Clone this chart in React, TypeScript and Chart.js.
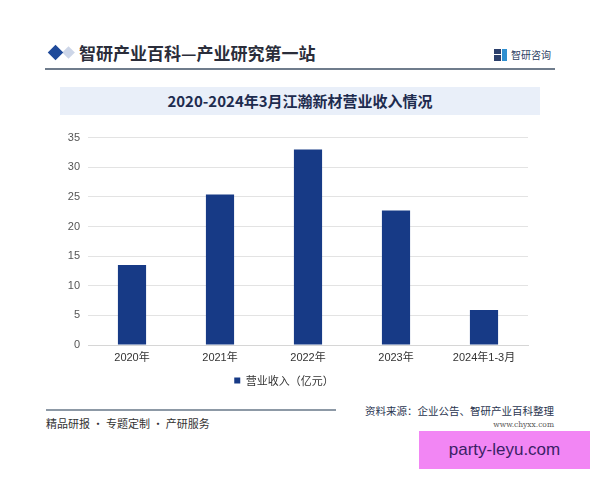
import React, { useEffect, useRef } from "react";
import { Chart, registerables } from "chart.js";

Chart.register(...registerables);

const categories = ["2020年", "2021年", "2022年", "2023年", "2024年1-3月"];
const revenue = [13.5, 25.4, 33.0, 22.7, 5.9];
const seriesName = "营业收入（亿元）";
const yTicks = [0, 5, 10, 15, 20, 25, 30, 35];

const CJK = "'Noto Sans CJK SC', 'Noto Sans', sans-serif";
const LAT = "'Liberation Sans', 'Noto Sans CJK SC', sans-serif";

function BarChart() {
  const ref = useRef<HTMLCanvasElement | null>(null);
  useEffect(() => {
    if (!ref.current) return;
    const chart = new Chart(ref.current, {
      type: "bar",
      data: {
        labels: categories,
        datasets: [
          {
            label: seriesName,
            data: revenue,
            backgroundColor: "#173a86",
            borderColor: "#13337a",
            borderWidth: 0,
            categoryPercentage: 0.8,
            barPercentage: 0.4,
          },
        ],
      },
      options: {
        responsive: false,
        animation: false,
        layout: { padding: { top: 8, right: 32, bottom: 0, left: 0 } },
        plugins: {
          legend: {
            position: "bottom",
            labels: {
              boxWidth: 6,
              boxHeight: 6,
              padding: 9,
              color: "#333",
              font: { family: CJK, size: 11 },
            },
          },
          tooltip: { enabled: false },
          title: { display: false },
        },
        scales: {
          x: {
            afterFit: (s: any) => {
              s.height = 21;
            },
            grid: { display: false, drawTicks: false },
            border: { display: true, color: "#d6d6d6" },
            ticks: {
              color: "#333",
              padding: 6,
              font: { family: LAT, size: 11 },
            },
          },
          y: {
            min: yTicks[0],
            max: yTicks[yTicks.length - 1],
            afterFit: (s: any) => {
              s.width = 48;
            },
            grid: { color: "#e3e3e3", drawTicks: false },
            border: { display: false },
            ticks: {
              stepSize: 5,
              padding: 8,
              color: "#555",
              font: { family: LAT, size: 11 },
            },
          },
        },
      },
    });
    return () => chart.destroy();
  }, []);
  return (
    <canvas
      ref={ref}
      width={520}
      height={273}
      style={{ position: "absolute", left: 40, top: 123, width: 520, height: 273 }}
    />
  );
}

export default function App() {
  const abs = (s: React.CSSProperties): React.CSSProperties => ({ position: "absolute", ...s });
  return (
    <div
      style={{
        position: "absolute",
        left: 0,
        top: 0,
        width: 600,
        height: 480,
        background: "#fff",
        overflow: "hidden",
        fontFamily: CJK,
      }}
    >
      {/* header diamonds */}
      <div style={abs({ left: 64, top: 48, width: 9, height: 9, background: "#cdd6e8", transform: "rotate(45deg)" })} />
      <div style={abs({ left: 50, top: 47, width: 11, height: 11, background: "#1f4a9a", transform: "rotate(45deg)" })} />
      <div
        style={abs({
          left: 79,
          top: 41,
          fontSize: 17,
          lineHeight: "24px",
          fontWeight: 700,
          color: "#2a2d3a",
          whiteSpace: "nowrap",
        })}
      >
        智研产业百科—产业研究第一站
      </div>
      {/* logo */}
      <div style={abs({ left: 494, top: 49, width: 13, height: 12 })}>
        <div style={abs({ left: 0, top: 0, width: 7, height: 5, background: "#2b3f6b" })} />
        <div style={abs({ left: 8, top: 0, width: 5, height: 12, background: "#2f8fd0" })} />
        <div style={abs({ left: 0, top: 6, width: 7, height: 6, background: "#2b3f6b" })} />
      </div>
      <div style={abs({ left: 511, top: 48, fontSize: 10, lineHeight: "14px", color: "#2c3e63", whiteSpace: "nowrap" })}>
        智研咨询
      </div>
      <div style={abs({ left: 45, top: 68, width: 510, height: 2, background: "#6f7c8c" })} />

      {/* title band */}
      <div
        style={abs({
          left: 60,
          top: 87,
          width: 480,
          height: 28,
          background: "#e9eff9",
          color: "#1d2b4e",
          fontSize: 15,
          fontWeight: 700,
          lineHeight: "28px",
          textAlign: "center",
          whiteSpace: "nowrap",
        })}
      >
        2020-2024年3月江瀚新材营业收入情况
      </div>

      <BarChart />

      {/* footer */}
      <div style={abs({ left: 46, top: 409, width: 290, height: 2, background: "#8d99a6" })} />
      <div style={abs({ left: 46, top: 415, fontSize: 11, lineHeight: "16px", color: "#333", whiteSpace: "nowrap" })}>
        精品研报 · 专题定制 · 产研服务
      </div>
      <div
        style={abs({
          right: 46,
          top: 403,
          fontSize: 10.5,
          lineHeight: "16px",
          color: "#2a3550",
          whiteSpace: "nowrap",
        })}
      >
        资料来源：企业公告、智研产业百科整理
      </div>
      <div
        style={abs({
          right: 46,
          top: 420,
          fontSize: 7.5,
          lineHeight: "10px",
          color: "#555",
          fontFamily: "'DejaVu Serif', serif",
          whiteSpace: "nowrap",
        })}
      >
        www.chyxx.com
      </div>
      <div
        style={abs({
          left: 419,
          top: 431,
          width: 171,
          height: 38,
          background: "#f286f4",
          color: "#3b1f66",
          fontSize: 17,
          lineHeight: "38px",
          textAlign: "center",
          fontFamily: "'Liberation Sans', Arial, sans-serif",
          whiteSpace: "nowrap",
        })}
      >
        party-leyu.com
      </div>
    </div>
  );
}
